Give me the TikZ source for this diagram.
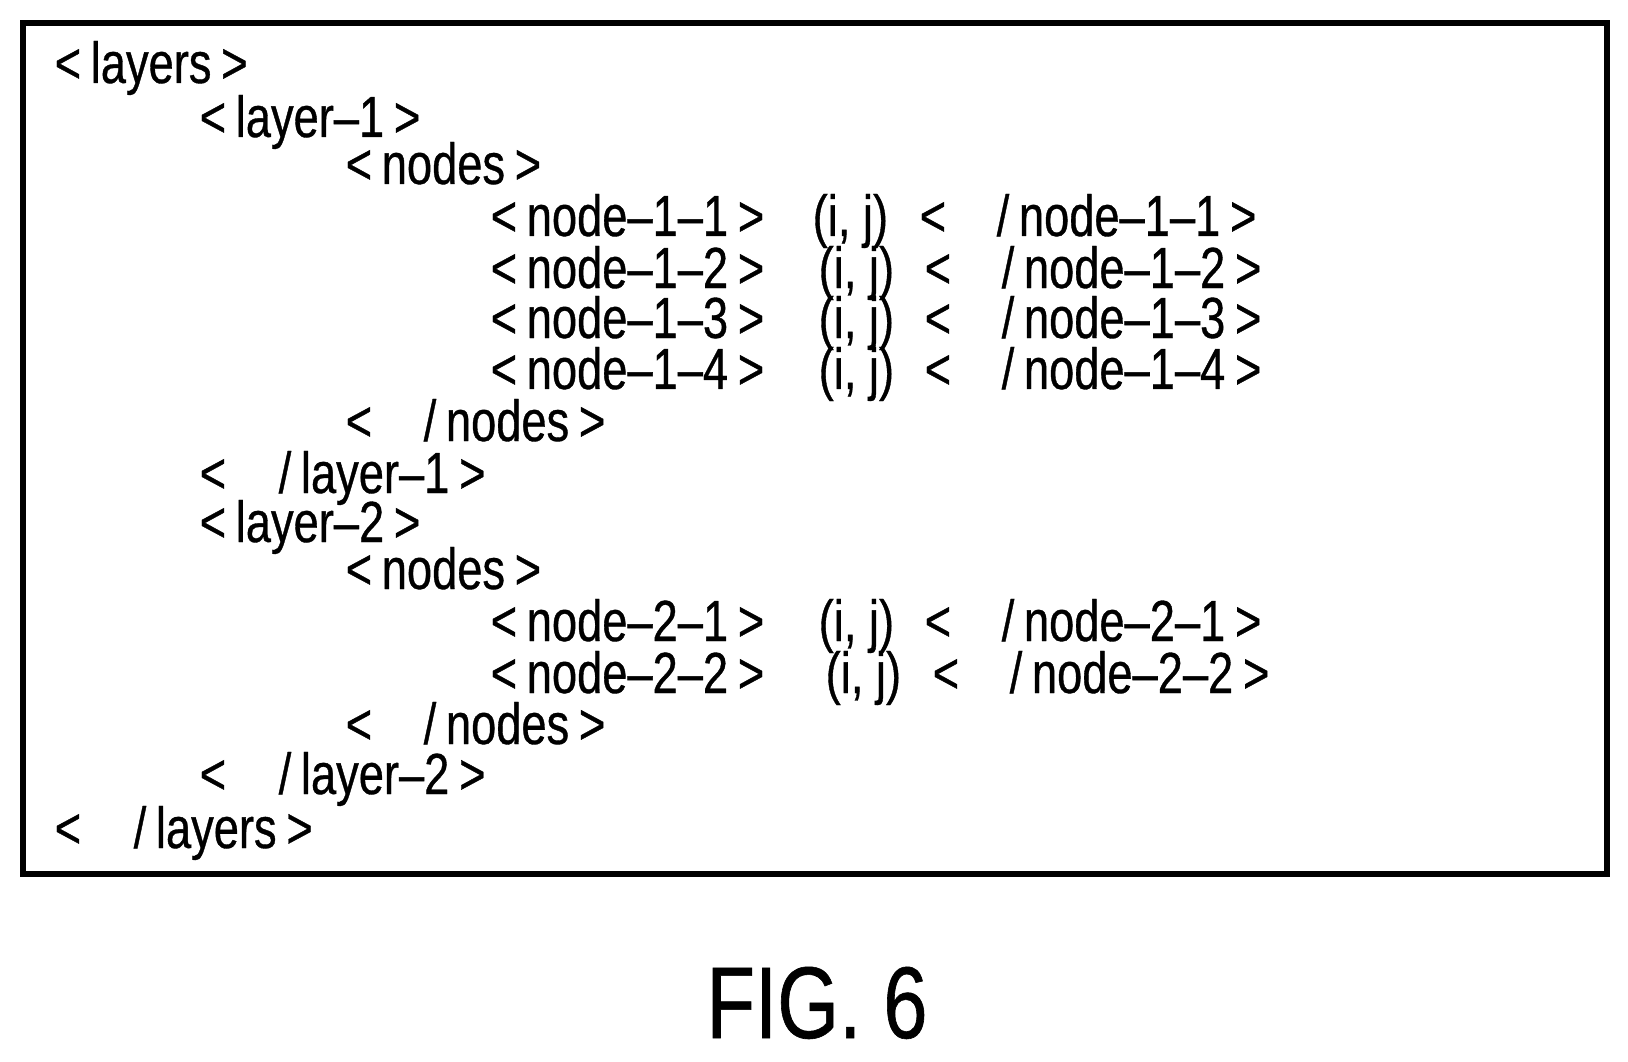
\documentclass[tikz,border=0pt]{standalone}
\usepackage{fontspec}
\setmainfont{Liberation Sans}[FakeStretch=0.78,FakeBold=0.6]
\usetikzlibrary{positioning}
\tikzset{x=0.01cm, y=-0.01cm,
    tag/.style={anchor=base west, inner sep=0pt, font=\fontsize{16.5}{18}\selectfont},
    caption/.style={anchor=base, inner sep=0pt, font=\fontsize{29}{32}\selectfont}}
\newcommand{\lt}{<\,}
\newcommand{\gt}{\,>}
\newcommand{\leafline}[5]{%
  \node[tag] (#1a) at (490,#2) {\lt node–#3\gt};
  \node[tag] (#1b) at (#4,#2) {(i, j)};
  \node[tag] (#1c) at (#5,#2) {<};
  \node[tag] (#1d) at (#5+77,#2) {/\,node–#3\gt};}

\begin{document}
\begin{tikzpicture}
\useasboundingbox (0,0) rectangle (1628,1061);
\draw[line width=1.7pt] (23,23) rectangle (1607,874);

\node[tag] (l0) at (54,83) {\lt layers\gt};
\node[tag] (l1) at (199,137) {\lt layer–1\gt};
\node[tag] (n1) at (345,184) {\lt nodes\gt};
\leafline{a}{236}{1–1}{812}{919}
\leafline{b}{288}{1–2}{818}{924}
\leafline{c}{338}{1–3}{818}{924}
\leafline{d}{389}{1–4}{818}{924}
\node[tag] (n1e) at (345,441) {<};
\node[tag] (n1f) at (423,441) {/\,nodes\gt};
\node[tag] (l1e) at (199,493) {<};
\node[tag] (l1f) at (278,493) {/\,layer–1\gt};
\node[tag] (l2) at (199,542) {\lt layer–2\gt};
\node[tag] (n2) at (345,589) {\lt nodes\gt};
\leafline{e}{641}{2–1}{818}{924}
\leafline{f}{693}{2–2}{825}{932}
\node[tag] (n2e) at (345,744) {<};
\node[tag] (n2f) at (423,744) {/\,nodes\gt};
\node[tag] (l2e) at (199,794) {<};
\node[tag] (l2f) at (278,794) {/\,layer–2\gt};
\node[tag] (l0e) at (54,848) {<};
\node[tag] (l0f) at (133,848) {/\,layers\gt};

\node[caption] (fig) at (817,1038) {FIG. 6};
\end{tikzpicture}
\end{document}
